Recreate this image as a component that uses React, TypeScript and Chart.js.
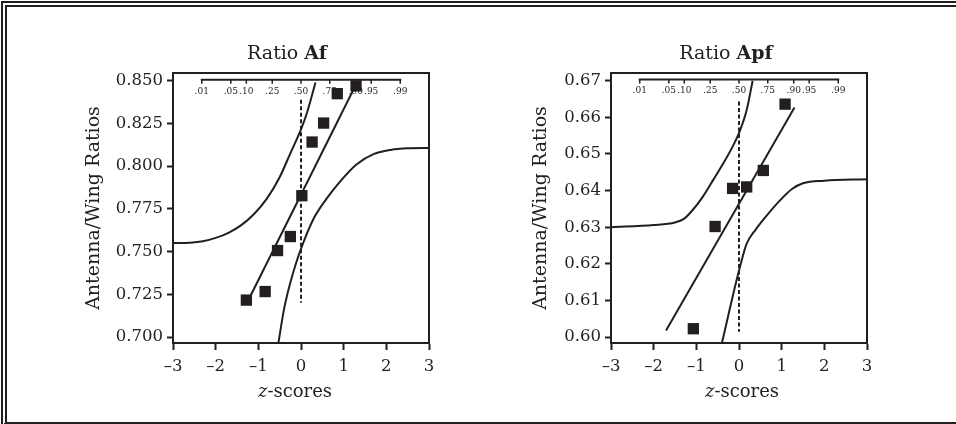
import React, { useEffect, useRef } from "react";
import { Chart, registerables } from "chart.js";

Chart.register(...registerables);

const INK = "#231f20";
const FONT = "'DejaVu Serif', serif";

// ---------- shared axis data ----------
const zTicks = [-3, -2, -1, 0, 1, 2, 3];
const probLabels = [".01", ".05", ".10", ".25", ".50", ".75", ".90", ".95", ".99"];
const probZ = [-2.326, -1.645, -1.282, -0.674, 0, 0.674, 1.282, 1.645, 2.326];

// ---------- Ratio Af ----------
const afZ = [-1.28, -0.84, -0.55, -0.25, 0.02, 0.26, 0.53, 0.85, 1.29];
const afRatio = [0.7216, 0.7266, 0.7506, 0.7588, 0.7827, 0.8141, 0.8252, 0.8424, 0.847];
const afFitZ = [-1.25, 1.28];
const afFitRatio = [0.7208, 0.8473];
const afUpperZ = [-3, -2.6, -2.3, -2.0, -1.7, -1.4, -1.1, -0.8, -0.5, -0.25, 0.0, 0.15, 0.34];
const afUpperRatio = [0.755, 0.7552, 0.756, 0.758, 0.761, 0.7655, 0.772, 0.781, 0.7935, 0.8075, 0.8215, 0.832, 0.849];
const afLowerZ = [-0.53, -0.4, -0.27, -0.1, 0.05, 0.3, 0.6, 0.95, 1.3, 1.7, 2.1, 2.5, 3];
const afLowerRatio = [0.6965, 0.716, 0.73, 0.7445, 0.755, 0.7695, 0.781, 0.792, 0.801, 0.807, 0.8095, 0.8104, 0.8106];
const afMeanRatio = [0.8389, 0.72];
const afYTicks = [0.7, 0.725, 0.75, 0.775, 0.8, 0.825, 0.85];
const afYRange = [0.6965, 0.8545];
const afProbAxisRatio = 0.8506;

// ---------- Ratio Apf ----------
const apfZ = [-1.07, -0.56, -0.15, 0.18, 0.57, 1.08];
const apfRatio = [0.6023, 0.6302, 0.6406, 0.641, 0.6455, 0.6636];
const apfFitZ = [-1.71, 1.3];
const apfFitRatio = [0.6018, 0.6627];
const apfUpperZ = [-3, -2.0, -1.5, -1.3, -1.1, -0.85, -0.6, -0.35, -0.12, 0.03, 0.18, 0.32];
const apfUpperRatio = [0.63, 0.6306, 0.6313, 0.6322, 0.6345, 0.6383, 0.643, 0.6478, 0.6527, 0.6566, 0.662, 0.67];
const apfLowerZ = [-0.4, -0.25, -0.1, 0.03, 0.18, 0.4, 0.6, 0.95, 1.25, 1.5, 2.0, 3];
const apfLowerRatio = [0.5984, 0.606, 0.6135, 0.6195, 0.6255, 0.6295, 0.6325, 0.6372, 0.6405, 0.642, 0.6427, 0.6431];
const apfMeanRatio = [0.6643, 0.6015];
const apfYTicks = [0.6, 0.61, 0.62, 0.63, 0.64, 0.65, 0.66, 0.67];
const apfYRange = [0.5984, 0.6721];
const apfProbAxisRatio = 0.6703;

const zip = (xs: number[], ys: number[]) => xs.map((x, i) => ({ x, y: ys[i] }));

type Spec = {
  titleBold: string;
  z: number[];
  ratio: number[];
  fitZ: number[];
  fitRatio: number[];
  upZ: number[];
  upR: number[];
  loZ: number[];
  loR: number[];
  meanR: number[];
  yTicks: number[];
  yRange: number[];
  probY: number;
  decimals: number;
  // layout
  yWidth: number;
  padRight: number;
  yTitlePad: number;
  titleShift: number;
  xTitleShift: number;
};

const decoPlugin = {
  id: "deco",
  beforeDatasetsDraw(chart: any, _a: any, opts: any) {
    const { ctx, scales } = chart;
    const xs = scales.x, ys = scales.y;
    const yPix = ys.getPixelForValue(opts.probY);
    ctx.save();
    ctx.strokeStyle = INK;
    ctx.fillStyle = INK;
    ctx.lineWidth = 2;
    ctx.beginPath();
    ctx.moveTo(xs.getPixelForValue(probZ[0]) - 1, yPix);
    ctx.lineTo(xs.getPixelForValue(probZ[probZ.length - 1]) + 1, yPix);
    ctx.stroke();
    ctx.lineWidth = 1.5;
    ctx.font = `9px ${FONT}`;
    ctx.textAlign = "center";
    ctx.textBaseline = "middle";
    probZ.forEach((z, i) => {
      const px = xs.getPixelForValue(z);
      ctx.beginPath();
      ctx.moveTo(px, yPix);
      ctx.lineTo(px, yPix + 4);
      ctx.stroke();
      ctx.fillText(probLabels[i], px, yPix + 11.5);
    });
    ctx.restore();
  },
  afterDraw(chart: any, _a: any, opts: any) {
    const { ctx, chartArea } = chart;
    ctx.save();
    ctx.strokeStyle = INK;
    ctx.lineWidth = 2;
    ctx.strokeRect(chartArea.left, chartArea.top, chartArea.right - chartArea.left, chartArea.bottom - chartArea.top);
    // title
    const cx = (chartArea.left + chartArea.right) / 2;
    ctx.fillStyle = INK;
    ctx.textBaseline = "alphabetic";
    ctx.textAlign = "left";
    const f1 = `19px ${FONT}`;
    const f2 = `bold 19px ${FONT}`;
    ctx.font = f1;
    const w1 = ctx.measureText("Ratio ").width;
    ctx.font = f2;
    const w2 = ctx.measureText(opts.titleBold).width;
    let x0 = cx + opts.titleShift - (w1 + w2) / 2;
    ctx.font = f1;
    ctx.fillText("Ratio ", x0, 59);
    ctx.font = f2;
    ctx.fillText(opts.titleBold, x0 + w1, 59);
    // x title
    const g1 = `italic 18px ${FONT}`;
    const g2 = `18px ${FONT}`;
    ctx.font = g1;
    const v1 = ctx.measureText("z").width;
    ctx.font = g2;
    const v2 = ctx.measureText("-scores").width;
    x0 = cx + opts.xTitleShift - (v1 + v2) / 2;
    ctx.font = g1;
    ctx.fillText("z", x0, 397);
    ctx.font = g2;
    ctx.fillText("-scores", x0 + v1, 397);
    ctx.restore();
  },
};

function buildConfig(s: Spec): any {
  const lineBase = {
    showLine: true,
    pointRadius: 0,
    borderColor: INK,
    borderWidth: 2,
    fill: false,
  };
  return {
    type: "scatter",
    data: {
      datasets: [
        {
          data: zip(s.z, s.ratio),
          pointStyle: "rect",
          pointRadius: 8,
          pointBorderWidth: 0,
          backgroundColor: INK,
          borderColor: INK,
          showLine: false,
        },
        { ...lineBase, data: zip(s.fitZ, s.fitRatio) },
        { ...lineBase, data: zip(s.upZ, s.upR), cubicInterpolationMode: "monotone" },
        { ...lineBase, data: zip(s.loZ, s.loR), cubicInterpolationMode: "monotone" },
        { ...lineBase, data: zip([0, 0], s.meanR), borderDash: [4, 2.5] },
      ],
    },
    options: {
      animation: false,
      responsive: false,
      maintainAspectRatio: false,
      devicePixelRatio: 1,
      events: [],
      layout: { padding: { left: 0, top: 73, right: s.padRight, bottom: 0 } },
      plugins: {
        legend: { display: false },
        tooltip: { enabled: false },
        title: { display: false },
        deco: {
          probY: s.probY,
          titleBold: s.titleBold,
          titleShift: s.titleShift,
          xTitleShift: s.xTitleShift,
        },
      },
      scales: {
        x: {
          type: "linear",
          min: -3,
          max: 3,
          afterBuildTicks: (scale: any) => {
            scale.ticks = zTicks.map((v) => ({ value: v }));
          },
          afterFit: (scale: any) => {
            scale.height = 81;
          },
          ticks: {
            color: INK,
            font: { family: FONT, size: 16.5 },
            padding: 7,
            maxRotation: 0,
            callback: (v: number) => (v < 0 ? "\u2013" + Math.abs(v) : String(v)),
          },
          grid: {
            display: true,
            drawOnChartArea: false,
            drawTicks: true,
            tickLength: 7,
            tickWidth: 2,
            tickColor: INK,
            color: INK,
          },
          border: { display: true, color: INK, width: 2 },
        },
        y: {
          type: "linear",
          min: s.yRange[0],
          max: s.yRange[1],
          afterBuildTicks: (scale: any) => {
            scale.ticks = s.yTicks.map((v) => ({ value: v }));
          },
          afterFit: (scale: any) => {
            scale.width = s.yWidth;
          },
          ticks: {
            color: INK,
            font: { family: FONT, size: 16.5 },
            padding: 4,
            callback: (v: number) => Number(v).toFixed(s.decimals),
          },
          grid: {
            display: true,
            drawOnChartArea: false,
            drawTicks: true,
            tickLength: 6,
            tickWidth: 2,
            tickColor: INK,
            color: INK,
          },
          border: { display: true, color: INK, width: 2 },
          title: {
            display: true,
            text: "Antenna/Wing Ratios",
            color: INK,
            font: { family: FONT, size: 19 },
            padding: { top: s.yTitlePad, bottom: 0 },
          },
        },
      },
    },
    plugins: [decoPlugin],
  };
}

const afSpec: Spec = {
  titleBold: "Af",
  z: afZ,
  ratio: afRatio,
  fitZ: afFitZ,
  fitRatio: afFitRatio,
  upZ: afUpperZ,
  upR: afUpperRatio,
  loZ: afLowerZ,
  loR: afLowerRatio,
  meanR: afMeanRatio,
  yTicks: afYTicks,
  yRange: afYRange,
  probY: afProbAxisRatio,
  decimals: 3,
  yWidth: 173,
  padRight: 49,
  yTitlePad: 83,
  titleShift: -14,
  xTitleShift: -6,
};

const apfSpec: Spec = {
  titleBold: "Apf",
  z: apfZ,
  ratio: apfRatio,
  fitZ: apfFitZ,
  fitRatio: apfFitRatio,
  upZ: apfUpperZ,
  upR: apfUpperRatio,
  loZ: apfLowerZ,
  loR: apfLowerRatio,
  meanR: apfMeanRatio,
  yTicks: apfYTicks,
  yRange: apfYRange,
  probY: apfProbAxisRatio,
  decimals: 2,
  yWidth: 133,
  padRight: 89,
  yTitlePad: 52,
  titleShift: -13,
  xTitleShift: 3,
};

function Panel({ spec, left }: { spec: Spec; left: number }) {
  const ref = useRef<HTMLCanvasElement | null>(null);
  useEffect(() => {
    if (!ref.current) return;
    const chart = new Chart(ref.current, buildConfig(spec));
    return () => chart.destroy();
  }, [spec]);
  return (
    <canvas
      ref={ref}
      width={478}
      height={424}
      style={{ position: "absolute", left, top: 0, width: 478, height: 424 }}
    />
  );
}

export default function App() {
  return (
    <div
      style={{
        position: "fixed",
        left: 0,
        top: 0,
        width: 956,
        height: 424,
        background: "#fff",
        overflow: "hidden",
      }}
    >
      <div
        style={{
          position: "absolute",
          left: 1,
          top: 1,
          width: 960,
          height: 415,
          borderTop: `6px double ${INK}`,
          borderLeft: `6px double ${INK}`,
          borderBottom: `3px solid ${INK}`,
        }}
      />
      <Panel spec={afSpec} left={0} />
      <Panel spec={apfSpec} left={478} />
    </div>
  );
}
